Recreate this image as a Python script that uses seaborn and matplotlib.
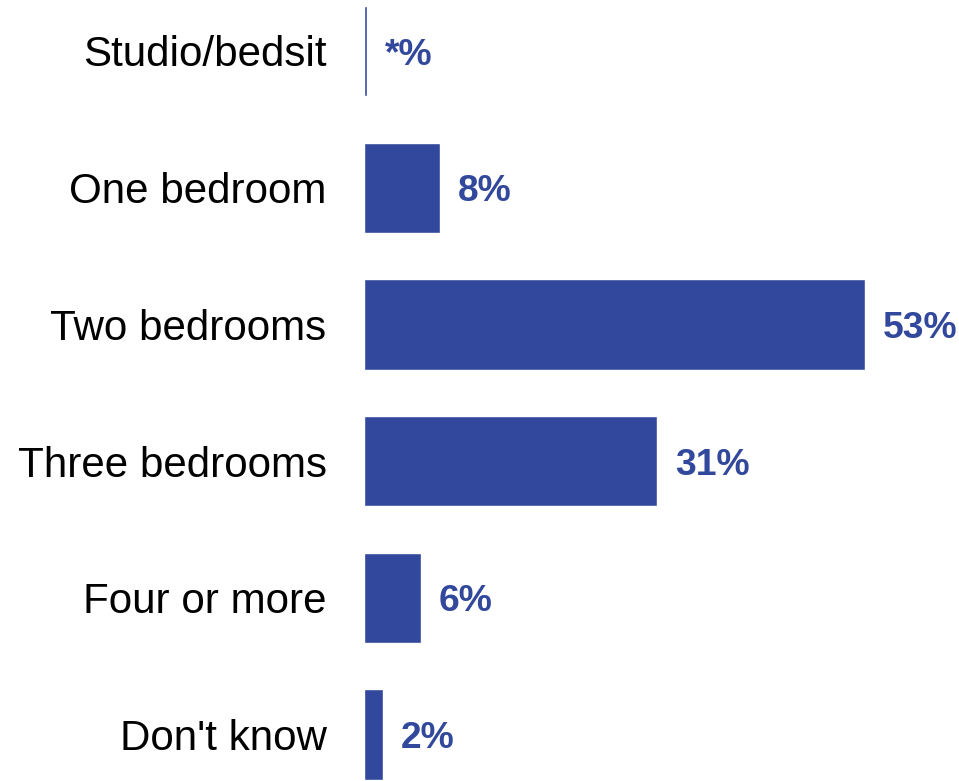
import numpy as np
import pandas as pd
import seaborn as sns
import matplotlib
matplotlib.use("Agg")
import matplotlib.pyplot as plt

# Data
categories = ["Studio/bedsit", "One bedroom", "Two bedrooms",
              "Three bedrooms", "Four or more", "Don't know"]
values = [0.3, 8, 53, 31, 6, 2]
labels = ["*%", "8%", "53%", "31%", "6%", "2%"]

df = pd.DataFrame({"category": categories, "value": values})

sns.set_style("white")
plt.rcParams['font.family'] = ['Liberation Sans', 'DejaVu Sans']

blue = "#32489C"

fig = plt.figure(figsize=(9.59, 7.81), dpi=100)
ax = fig.add_axes([364 / 959, 0, 567 / 959, 1])
sns.barplot(data=df, x="value", y="category", color=blue, width=0.66,
            saturation=1, ax=ax)

for i, (v, lab) in enumerate(zip(values, labels)):
    ax.text(v + 1.9, i + 0.03, lab, va="center", ha="left", fontsize=26.8,
            fontweight="bold", color=blue)

ax.set_xlim(0, 60)
ax.set_ylim(5.34, -0.373)
ax.set_xlabel("")
ax.set_ylabel("")
ax.set_xticks([])
ax.tick_params(axis="y", length=0, pad=27, labelsize=30.3, labelcolor="black")
sns.despine(ax=ax, left=True, bottom=True)

fig.savefig("out.png", dpi=100)
